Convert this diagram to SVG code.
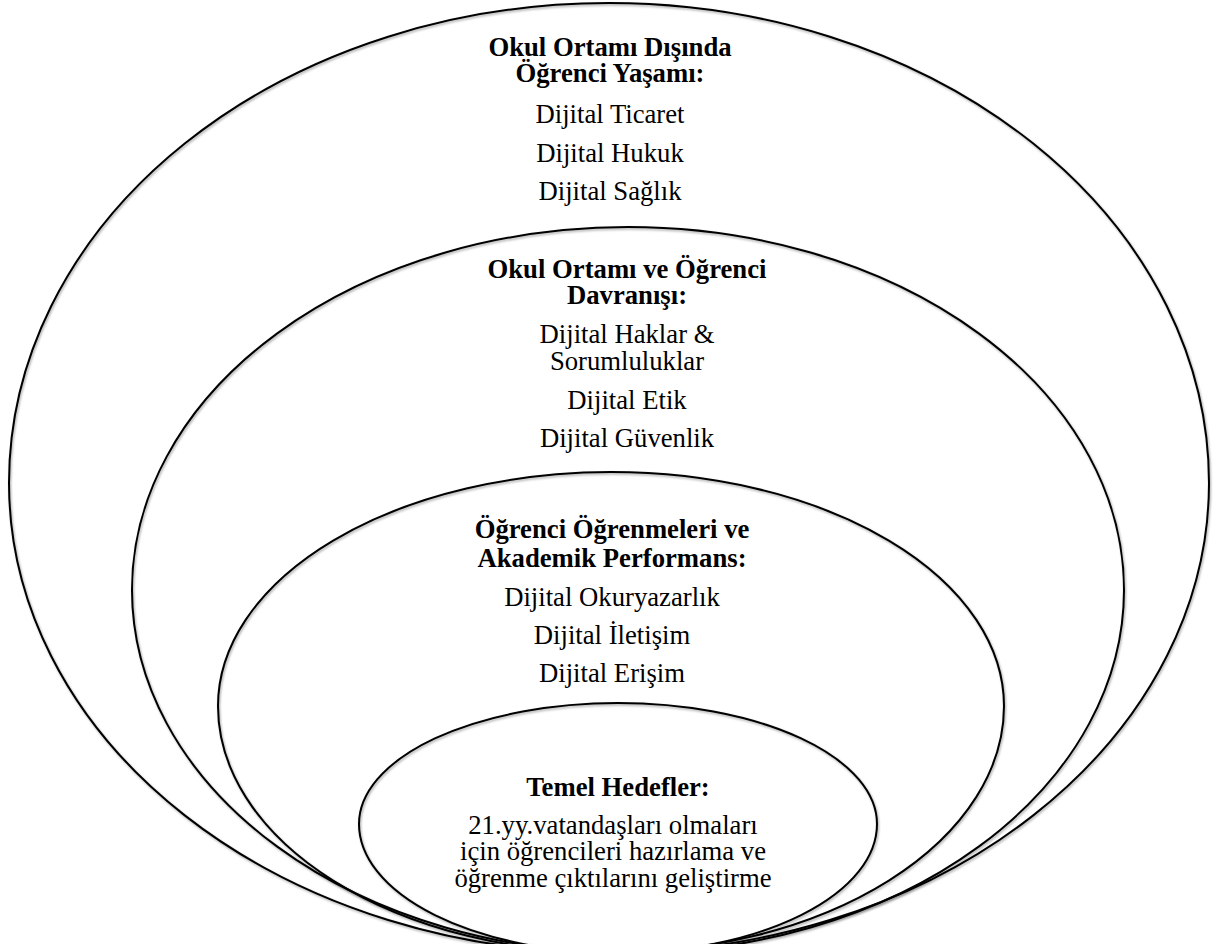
<svg xmlns="http://www.w3.org/2000/svg" width="1217" height="944" viewBox="0 0 1217 944">
<style>
.ring{fill:none;stroke:#000;stroke-width:2;filter:url(#sh)}
.t{font-family:"Liberation Serif","Times New Roman",serif;font-size:26.7px;fill:#000;text-anchor:middle}
.b{font-weight:bold}
</style>
<defs>
<filter id="sh" x="-5%" y="-5%" width="110%" height="110%">
<feDropShadow dx="1" dy="1.5" stdDeviation="1" flood-color="#000" flood-opacity="0.35"/>
</filter>
</defs>
<rect width="1217" height="944" fill="#fff"/>
<g id="ring1">
<path class="ring" d="M9,483 A600,480 0 0 1 1209,483 A600,470 0 0 1 9,483 Z"/>
<text class="t b" x="610" y="56">Okul Ortamı Dışında</text>
<text class="t b" x="610" y="82">Öğrenci Yaşamı:</text>
<text class="t" x="610" y="123">Dijital Ticaret</text>
<text class="t" x="610" y="161.5">Dijital Hukuk</text>
<text class="t" x="610" y="199.5">Dijital Sağlık</text>
</g>
<g id="ring2">
<path class="ring" d="M132,590 A496,363 0 0 1 1124,590 A496,363 0 0 1 132,590 Z"/>
<text class="t b" x="627" y="278">Okul Ortamı ve Öğrenci</text>
<text class="t b" x="627" y="303.5">Davranışı:</text>
<text class="t" x="627" y="343">Dijital Haklar &amp;</text>
<text class="t" x="627" y="370">Sorumluluklar</text>
<text class="t" x="627" y="409">Dijital Etik</text>
<text class="t" x="627" y="447">Dijital Güvenlik</text>
</g>
<g id="ring3">
<path class="ring" d="M218,706 A393,234 0 0 1 1004,706 A393,247 0 0 1 218,706 Z"/>
<text class="t b" x="612" y="538">Öğrenci Öğrenmeleri ve</text>
<text class="t b" x="612" y="566.5">Akademik Performans:</text>
<text class="t" x="612" y="606">Dijital Okuryazarlık</text>
<text class="t" x="612" y="643.5">Dijital İletişim</text>
<text class="t" x="612" y="681.5">Dijital Erişim</text>
</g>
<g id="ring4">
<path class="ring" d="M359,824 A259,121 0 0 1 877,824 A259,129 0 0 1 359,824 Z"/>
<text class="t b" x="618" y="796">Temel Hedefler:</text>
<text class="t" x="613" y="833.5">21.yy.vatandaşları olmaları</text>
<text class="t" x="613" y="860">için öğrencileri hazırlama ve</text>
<text class="t" x="613" y="887">öğrenme çıktılarını geliştirme</text>
</g>
<g id="connectors"></g>
</svg>
